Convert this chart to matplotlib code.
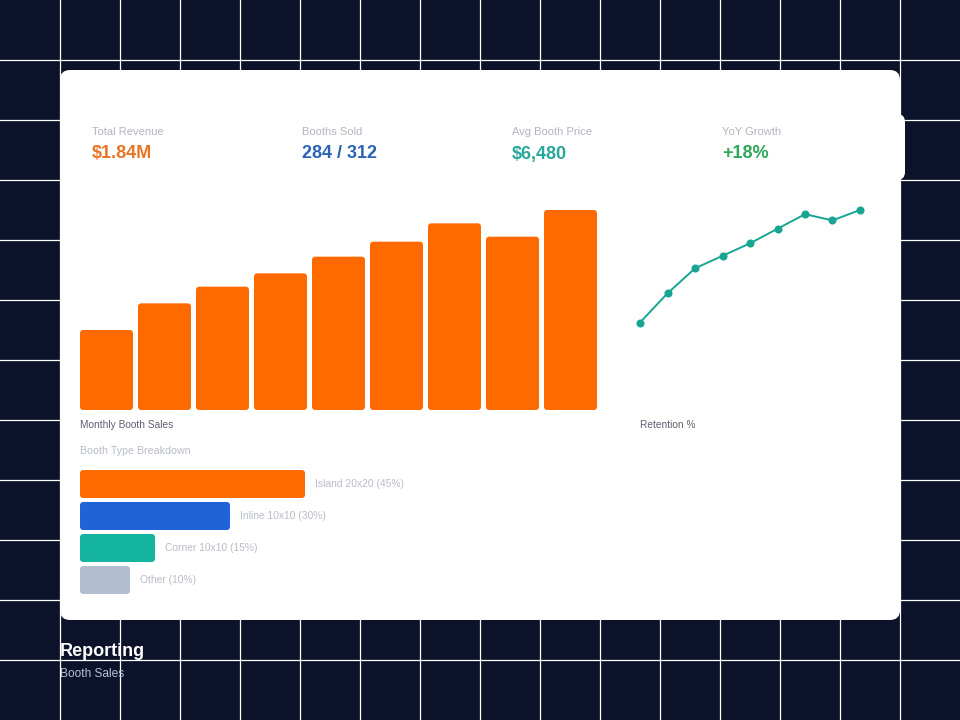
import matplotlib.pyplot as plt
from matplotlib.patches import FancyBboxPatch
import numpy as np

plt.rcParams['font.family'] = ['Liberation Sans', 'DejaVu Sans']

# data
kpi_labels = ["Total Revenue", "Booths Sold", "Avg Booth Price", "YoY Growth"]
kpi_values = ["$1.84M", "284 / 312", "$6,480", "+18%"]
kpi_colors = ["#ea7425", "#2a62b6", "#27a89b", "#2ea85a"]

monthly_sales = [48, 64, 74, 82, 92, 101, 112, 104, 120]
retention = [61, 68, 74, 77, 80, 83.5, 87, 85.5, 88]

booth_types = ["Island 20x20", "Inline 10x10", "Corner 10x10", "Other"]
booth_share = [45, 30, 15, 10]
booth_colors = ["#ff6a00", "#1f63d8", "#14b49f", "#b3bdd2"]

BG = "#0c1229"
ORANGE = "#ff6a00"
TEAL = "#18a592"

W, H = 960, 720
fig = plt.figure(figsize=(9.6, 7.2), dpi=100)
fig.patch.set_facecolor(BG)

# ? background axes in pixel units (top-left origin)
bg = fig.add_axes([0, 0, 1, 1])
bg.set_xlim(0, W)
bg.set_ylim(H, 0)
bg.axis("off")
bg.set_facecolor(BG)


def px_axes(x0, y0, x1, y1):
    return fig.add_axes([x0 / W, 1 - y1 / H, (x1 - x0) / W, (y1 - y0) / H])


def round_bar(ax, bar, r, color):
    # hide the plain bar and redraw it as a rounded box in pixel space
    bar.set_visible(False)
    x, y, w, h = bar.get_x(), bar.get_y(), bar.get_width(), bar.get_height()
    pts = ax.transData.transform([(x, y), (x + w, y + h)])
    (px0, py0), (px1, py1) = bg.transData.inverted().transform(pts)
    bg.add_patch(FancyBboxPatch((min(px0, px1), min(py0, py1)), abs(px1 - px0), abs(py1 - py0),
                                boxstyle=f"round,pad=0,rounding_size={r}",
                                fc=color, ec="none", zorder=3))


# ? grid and card
for k in range(1, 16):
    bg.axvline(60 * k, color="white", lw=0.9, zorder=1)
for k in range(1, 12):
    bg.axhline(60 * k, color="white", lw=0.9, zorder=1)

bg.add_patch(FancyBboxPatch((80, 114), 825, 66, boxstyle="round,pad=0,rounding_size=8",
                            fc="white", ec="none", zorder=2))
bg.add_patch(FancyBboxPatch((60, 70), 840, 550, boxstyle="round,pad=0,rounding_size=10",
                            fc="white", ec="none", zorder=2))

# ? KPI strip
for i in range(4):
    x = 92 + 210 * i
    bg.text(x, 135, kpi_labels[i], color="#b1b5bf", fontsize=8, va="baseline", ha="left", zorder=4)
    bg.text(x, 158.5, kpi_values[i], color=kpi_colors[i], fontsize=13, fontweight="bold",
            va="baseline", ha="left", zorder=4)

# ? monthly booth sales bars
ax1 = px_axes(80, 210, 597, 410)
bw = 53 / 58
ax1.set_xlim(-bw / 2, len(monthly_sales) - 1 + bw / 2)
ax1.set_ylim(0, max(monthly_sales))
ax1.axis("off")
bars = ax1.bar(np.arange(len(monthly_sales)), monthly_sales, width=bw, color=ORANGE)
for b in bars:
    round_bar(ax1, b, 3.5, ORANGE)

# ? retention line
ax2 = px_axes(640, 210, 860, 410)
ax2.set_xlim(0, len(retention) - 1)
ax2.set_ylim(40, max(retention))
ax2.axis("off")
ax2.plot(np.arange(len(retention)), retention, color=TEAL, lw=1.4, marker="o",
         markersize=4.8, clip_on=False)

bg.text(80, 428, "Monthly Booth Sales", color="#5b6170", fontsize=7.3, va="baseline", zorder=4)
bg.text(640, 428, "Retention %", color="#5b6170", fontsize=7.3, va="baseline", zorder=4)
bg.text(80, 454.5, "Booth Type Breakdown", color="#b7bcc7", fontsize=7.7, va="baseline", zorder=4)

# ? booth type breakdown
ax3 = px_axes(80, 470, 580, 594)
bh = 28 / 32
ax3.set_xlim(0, 100)
ax3.set_ylim(len(booth_share) - 1 + bh / 2, -bh / 2)
ax3.axis("off")
hb = ax3.barh(np.arange(len(booth_share)), booth_share, height=bh, color=booth_colors)
for i, b in enumerate(hb):
    round_bar(ax3, b, 3.5, booth_colors[i])
    ax3.text(booth_share[i] + 2, i, f"{booth_types[i]} ({booth_share[i]}%)",
             color="#b8bcc6", fontsize=7.4, va="center", ha="left")

# ? title
bg.text(60, 651, "Reporting", color="white", fontsize=13, fontweight="bold", va="center", zorder=4)
bg.text(60, 674, "Booth Sales", color="#b7c0d8", fontsize=8.6, va="center", zorder=4)

fig.savefig("out.png", dpi=100, facecolor=BG)
